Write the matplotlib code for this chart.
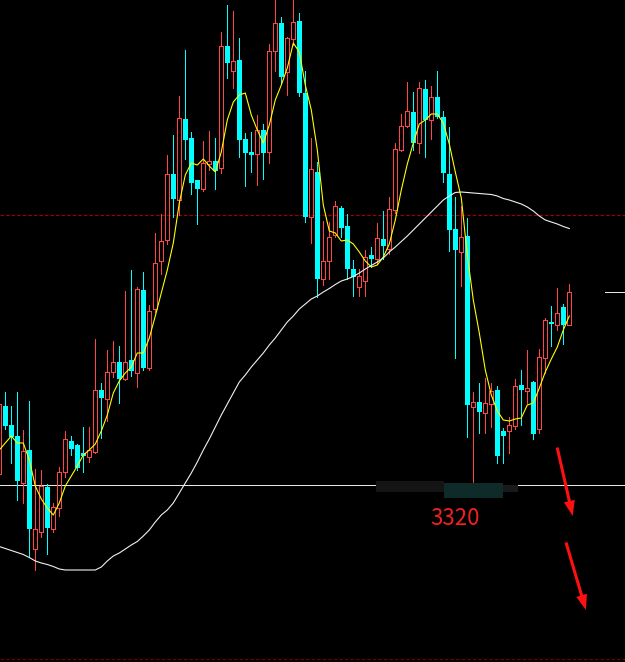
import numpy as np
import matplotlib
matplotlib.use('Agg')
import matplotlib.pyplot as plt
from matplotlib.patches import Rectangle

# ==================== Данные (дневные свечи) ====================
opens = [3331, 3399, 3380, 3369, 3322, 3355, 3256, 3273, 3318, 3276,
         3297, 3333, 3364, 3360, 3352, 3348, 3353, 3415, 3406, 3433,
         3443, 3426, 3445, 3432, 3515, 3437, 3496, 3544, 3565, 3631,
         3605, 3686, 3667, 3625, 3616, 3641, 3644, 3637, 3759, 3734,
         3745, 3666, 3653, 3651, 3675, 3653, 3754, 3782, 3733, 3766,
         3784, 3712, 3588, 3633, 3526, 3544, 3570, 3597, 3579, 3536,
         3518, 3524, 3550, 3546, 3566, 3556, 3595, 3655, 3679, 3693,
         3662, 3716, 3685, 3708, 3688, 3631, 3576, 3553, 3569, 3398,
         3403, 3392, 3401, 3415, 3374, 3374, 3379, 3420, 3414, 3423,
         3376, 3447, 3483, 3480, 3498, 3480]
highs = [3407, 3413, 3399, 3413, 3375, 3404, 3336, 3335, 3321, 3302,
         3338, 3374, 3369, 3361, 3378, 3378, 3466, 3422, 3455, 3464,
         3459, 3514, 3535, 3518, 3533, 3500, 3572, 3591, 3650, 3670,
         3709, 3755, 3673, 3625, 3664, 3674, 3667, 3773, 3800, 3794,
         3767, 3672, 3673, 3690, 3681, 3761, 3807, 3788, 3768, 3807,
         3792, 3734, 3667, 3643, 3584, 3583, 3604, 3599, 3591, 3545,
         3536, 3555, 3558, 3582, 3594, 3608, 3662, 3691, 3723, 3713,
         3723, 3725, 3719, 3734, 3694, 3678, 3608, 3599, 3587, 3413,
         3422, 3427, 3422, 3419, 3377, 3388, 3426, 3435, 3455, 3424,
         3456, 3487, 3499, 3517, 3501, 3521]
lows = [3327, 3376, 3342, 3305, 3302, 3248, 3235, 3268, 3251, 3273,
        3289, 3328, 3350, 3335, 3333, 3343, 3352, 3367, 3384, 3428,
        3402, 3425, 3429, 3418, 3435, 3435, 3493, 3531, 3561, 3588,
        3590, 3646, 3611, 3581, 3614, 3635, 3616, 3632, 3727, 3717,
        3648, 3619, 3633, 3620, 3626, 3642, 3734, 3722, 3710, 3760,
        3709, 3583, 3562, 3508, 3520, 3526, 3568, 3568, 3526, 3509,
        3509, 3509, 3538, 3541, 3546, 3551, 3592, 3654, 3678, 3655,
        3652, 3648, 3666, 3687, 3623, 3554, 3447, 3519, 3368, 3322,
        3372, 3372, 3378, 3342, 3342, 3352, 3376, 3380, 3402, 3366,
        3372, 3432, 3459, 3475, 3461, 3480]
closes = [3401, 3379, 3368, 3324, 3354, 3276, 3276, 3319, 3277, 3298,
          3333, 3366, 3356, 3337, 3349, 3355, 3415, 3407, 3433, 3443,
          3426, 3443, 3434, 3516, 3437, 3494, 3542, 3564, 3631, 3606,
          3687, 3665, 3622, 3616, 3642, 3644, 3634, 3759, 3742, 3744,
          3665, 3652, 3650, 3675, 3652, 3754, 3782, 3728, 3767, 3783,
          3712, 3588, 3636, 3526, 3544, 3568, 3599, 3577, 3536, 3528,
          3529, 3548, 3546, 3567, 3559, 3596, 3656, 3679, 3694, 3662,
          3717, 3685, 3708, 3688, 3632, 3575, 3555, 3568, 3400, 3403,
          3393, 3402, 3414, 3349, 3369, 3380, 3419, 3415, 3417, 3371,
          3448, 3485, 3481, 3492, 3480, 3513]

# короткая (жёлтая) и длинная (белая) скользящие средние
ma_short = [3355, 3362, 3369, 3362, 3362, 3345, 3319, 3306, 3297, 3290,
            3302, 3319, 3329, 3339, 3350, 3355, 3361, 3374, 3390, 3412,
            3424, 3432, 3438, 3452, 3452, 3467, 3489, 3512, 3535, 3562,
            3602, 3630, 3642, 3640, 3646, 3639, 3633, 3653, 3685, 3703,
            3710, 3712, 3690, 3675, 3662, 3680, 3705, 3720, 3737, 3762,
            3753, 3720, 3695, 3655, 3600, 3574, 3572, 3564, 3565, 3561,
            3553, 3544, 3538, 3540, 3548, 3561, 3585, 3615, 3641, 3662,
            3681, 3685, 3691, 3691, 3682, 3661, 3633, 3607, 3550, 3505,
            3472, 3435, 3410, 3394, 3385, 3384, 3386, 3387, 3400, 3402,
            3417, 3433, 3446, 3458, 3475, 3489]
ma_long = [3258.5, 3256.5, 3254.5, 3252.5, 3250.5, 3247.5, 3244, 3242, 3240.5, 3238.5,
           3236, 3235, 3235, 3235, 3235, 3235, 3235, 3238, 3244, 3249,
           3252, 3256, 3260, 3263.5, 3269, 3275, 3283, 3290, 3295, 3302,
           3312, 3322, 3332, 3343, 3355, 3366, 3378, 3390, 3401, 3412,
           3423, 3430, 3438, 3445, 3452, 3460, 3467, 3475, 3483, 3489,
           3496, 3501, 3506, 3509, 3513, 3516.5, 3520.5, 3524, 3526, 3528.5,
           3532, 3536, 3539.5, 3543, 3547, 3553, 3558, 3563.5, 3569, 3575,
           3581, 3587, 3593, 3599, 3605, 3609, 3612.5, 3613, 3612.5, 3612,
           3611.5, 3611, 3610.5, 3609, 3606.5, 3605, 3603, 3601, 3598, 3594,
           3589, 3585, 3583, 3581, 3578.5, 3576.5]

support_level = 3320
dash_level = 3590
last_mark = 3513

UP = '#ff4646'
DOWN = '#00ffff'

o = np.array(opens, dtype=float)
h = np.array(highs, dtype=float)
l = np.array(lows, dtype=float)
c = np.array(closes, dtype=float)
x = np.arange(len(o))
up = c >= o

fig = plt.figure(figsize=(6.25, 6.62), dpi=100, facecolor='black')
ax = fig.add_axes([0, 0, 1, 1])
ax.set_facecolor('black')
ax.set_xlim(0.1167, 0.1167 + 625 / 6)
ax.set_ylim(3143, 3805)
ax.axis('off')

LW = 0.7  # ~1 px

# уровни
ax.axhline(dash_level, color='#a00000', lw=0.8, ls=(0, (3.2, 1.8)), zorder=1)
ax.axhline(3146, color='#700000', lw=0.8, ls=(0, (3.2, 1.8)), zorder=1)
ax.axhline(support_level, color='#e6e6e6', lw=LW, zorder=1, antialiased=False)
ax.hlines(last_mark, 100.95, 104.3, color='#e6e6e6', lw=LW, antialiased=False)

# тени
ax.vlines(x[~up], l[~up], h[~up], color=DOWN, lw=LW, zorder=3, antialiased=False)
ax.vlines(x[up], l[up], o[up], color=UP, lw=LW, zorder=3, antialiased=False)
ax.vlines(x[up], c[up], h[up], color=UP, lw=LW, zorder=3, antialiased=False)

# тела: падающие — залитые, растущие — полые
dn_h = np.maximum(o[~up] - c[~up], 1.5)
ax.bar(x[~up], dn_h, bottom=c[~up], width=5 / 6, color=DOWN, lw=0, zorder=4,
       antialiased=False)
ax.bar(x[up], np.maximum(c[up] - o[up], 1), bottom=o[up], width=4 / 6,
       fill=False, edgecolor=UP, lw=LW, zorder=4, antialiased=False)

# скользящие средние
ax.plot(x, ma_short, color='#ffff00', lw=0.8, zorder=5)
ax.plot(x, ma_long, color='#f0f0f0', lw=0.8, zorder=5)

# затёртая область под уровнем
ax.add_patch(Rectangle((62.8, 3313), 11.3, 11, color='#141414', lw=0, zorder=6))
ax.add_patch(Rectangle((74.1, 3307), 9.9, 15, color='#0e2a29', lw=0, zorder=6))
ax.add_patch(Rectangle((84.0, 3313), 2.5, 7, color='#161a1a', lw=0, zorder=6))

ax.text(75.9, 3280, str(support_level), color='#f02020', fontsize=16,
        family=['Noto Sans CJK SC', 'DejaVu Sans'], ha='center', va='baseline', zorder=7)

# стрелки вниз
arrow = dict(arrowstyle='simple,head_length=1.1,head_width=0.8,tail_width=0.22',
             color='#ff1010', lw=0, shrinkA=0, shrinkB=0)
ax.annotate('', xy=(95.57, 3289), xytext=(92.98, 3357.5), arrowprops=arrow, zorder=7)
ax.annotate('', xy=(97.77, 3195), xytext=(94.45, 3262.6), arrowprops=arrow, zorder=7)

plt.savefig('out.png', dpi=100, facecolor='black')
